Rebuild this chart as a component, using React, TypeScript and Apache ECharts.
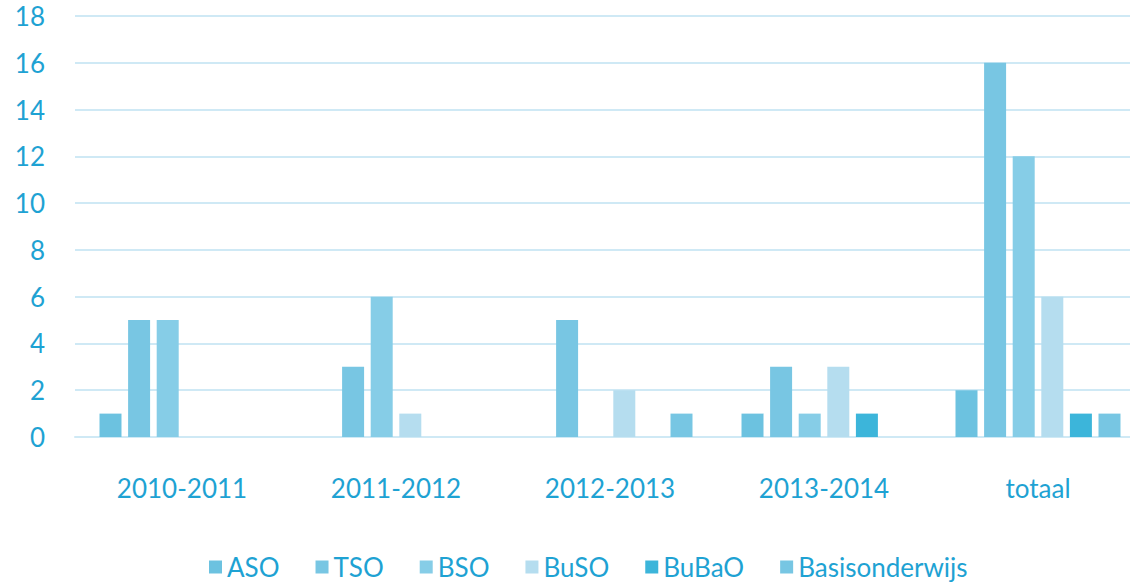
import React, { useEffect, useRef } from "react";
import * as echarts from "echarts";

const categories = ["2010-2011", "2011-2012", "2012-2013", "2013-2014", "totaal"];
const seriesNames = ["ASO", "TSO", "BSO", "BuSO", "BuBaO", "Basisonderwijs"];
const aso = [1, 0, 0, 1, 2];
const tso = [5, 3, 5, 3, 16];
const bso = [5, 6, 0, 1, 12];
const buso = [0, 1, 2, 3, 6];
const bubao = [0, 0, 0, 1, 1];
const basis = [0, 0, 1, 0, 1];
const seriesValues = [aso, tso, bso, buso, bubao, basis];
const colors = ["#6cc2e0", "#78c6e3", "#86cde7", "#b5ddef", "#3cb5da", "#77c6e3"];
const yTicks = [0, 18, 2];

const textColor = "#1ea2d3";
const font = "Lato";

export default function App() {
  const ref = useRef<HTMLDivElement>(null);
  useEffect(() => {
    if (!ref.current) return;
    const chart = echarts.init(ref.current, null, { renderer: "svg" });
    chart.setOption({
      animation: false,
      color: colors,
      grid: { left: 75, right: 0, top: 16, bottom: 149, containLabel: false },
      legend: {
        top: 549,
        left: 204,
        itemWidth: 13,
        itemHeight: 13,
        itemGap: 36,
        icon: "rect",
        textStyle: { color: textColor, fontSize: 26, fontFamily: font },
        data: seriesNames,
      },
      xAxis: {
        type: "category",
        data: categories,
        axisLine: { show: true, lineStyle: { color: "#cfe9f5", width: 2 } },
        axisTick: { show: false },
        axisLabel: { color: textColor, fontSize: 26, fontFamily: font, margin: 38 },
      },
      yAxis: {
        type: "value",
        min: yTicks[0],
        max: yTicks[1],
        interval: yTicks[2],
        axisLine: { show: false },
        axisTick: { show: false },
        axisLabel: { color: textColor, fontSize: 26, fontFamily: font, margin: 30 },
        splitLine: { lineStyle: { color: "#cfe9f5", width: 2 } },
      },
      series: seriesNames.map((name, i) => ({
        name,
        type: "bar",
        data: seriesValues[i],
        barWidth: 22,
        barGap: "30%",
        itemStyle: { color: colors[i] },
      })),
    });
    return () => chart.dispose();
  }, []);
  return (
    <div
      ref={ref}
      style={{ position: "fixed", left: 0, top: 0, width: 1145, height: 586, background: "#fff" }}
    />
  );
}
